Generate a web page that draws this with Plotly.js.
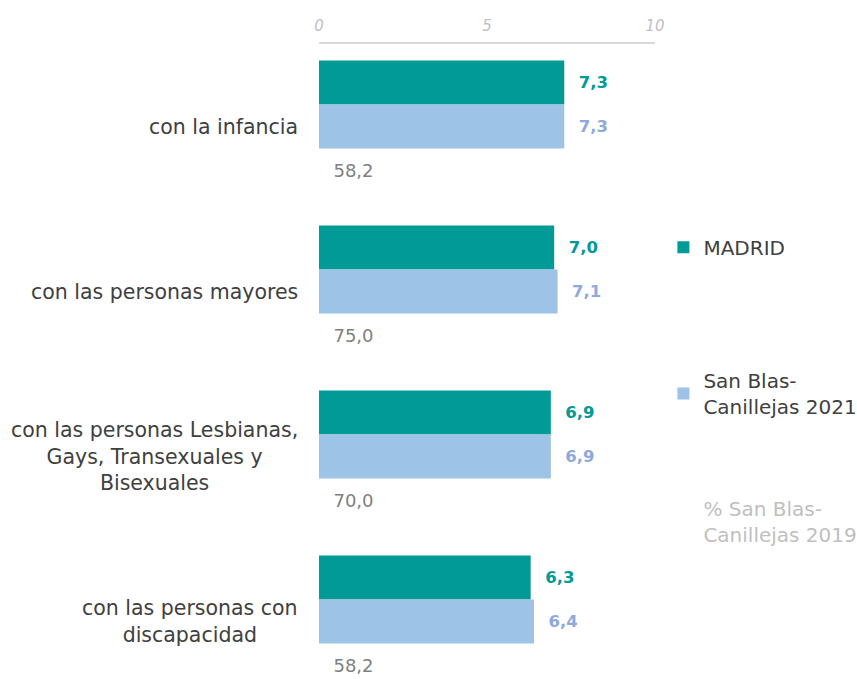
<!DOCTYPE html>
<html>
<head>
<meta charset="utf-8">
<script src="https://cdn.plot.ly/plotly-3.0.1.min.js"></script>
<style>html,body{margin:0;padding:0;background:#fff;}#chart{width:857px;height:679px;}</style>
</head>
<body>
<div id="chart"></div>
<script>
// ---- data ----
const categories = [
  "con la infancia",
  "con las personas mayores",
  "con las personas Lesbianas,<br>Gays, Transexuales y<br>Bisexuales",
  "con las personas con<br>discapacidad"
];
const madrid = [7.3, 7.0, 6.9, 6.3];
const sanBlas2021 = [7.3, 7.1, 6.9, 6.4];
const sanBlas2019Pct = [58.2, 75.0, 70.0, 58.2];
const xTicks = [0, 5, 10];
const seriesNames = ["MADRID", "San Blas-<br>Canillejas 2021", "% San Blas-<br>Canillejas 2019"];

const FONT = "DejaVu Sans";
const pad = "\u00a0\u00a0";
const fmt = v => v.toFixed(1).replace(".", ",");

const traces = [
  {
    type: "bar", orientation: "h", name: seriesNames[0],
    y: categories, x: madrid,
    marker: {color: "#009A97"},
    text: madrid.map(v => pad + fmt(v)), textposition: "outside",
    textfont: {family: FONT, size: 16.5, color: "#009A97", weight: "bold"},
    cliponaxis: false, legend: "legend", hoverinfo: "skip"
  },
  {
    type: "bar", orientation: "h", name: seriesNames[1],
    y: categories, x: sanBlas2021,
    marker: {color: "#9DC3E6"},
    text: sanBlas2021.map(v => pad + fmt(v)), textposition: "outside",
    textfont: {family: FONT, size: 16.5, color: "#8EA9DB", weight: "bold"},
    cliponaxis: false, legend: "legend2", hoverinfo: "skip"
  },
  {
    type: "bar", orientation: "h", name: seriesNames[2],
    y: categories, x: sanBlas2019Pct.map(() => 0),
    marker: {color: "rgba(0,0,0,0)"},
    text: sanBlas2019Pct.map(v => "\u00a0\u00a0" + fmt(v)), textposition: "outside",
    textfont: {family: FONT, size: 18, color: "#7F7F7F"},
    cliponaxis: false, legend: "legend3", hoverinfo: "skip"
  }
];

const annotations = categories.map(c => ({
  xref: "paper", yref: "y", x: 0, y: c, xanchor: "right", yanchor: "middle",
  xshift: -19, text: c, showarrow: false, align: "center",
  font: {family: FONT, size: 20.5, color: "#404040"}
}));

const legendBase = {
  xref: "paper", yref: "paper", xanchor: "left", yanchor: "middle",
  x: 1.025, bgcolor: "rgba(0,0,0,0)", borderwidth: 0
};

const layout = {
  width: 857, height: 679,
  margin: {l: 319, r: 202, t: 44, b: 0, autoexpand: false},
  paper_bgcolor: "#ffffff", plot_bgcolor: "#ffffff",
  separators: ",.",
  barmode: "group", bargap: 0.2, bargroupgap: 0,
  font: {family: FONT, color: "#404040"},
  xaxis: {
    side: "top", range: [0, 10], tickvals: xTicks, ticktext: xTicks.map(String),
    showgrid: false, zeroline: false, showline: true, linecolor: "#D9D9D9", linewidth: 2,
    ticks: "", ticklabelstandoff: 5, automargin: false,
    tickfont: {family: FONT, size: 15, color: "#BFBFBF", style: "italic"}
  },
  yaxis: {
    type: "category", range: [3.348, -0.5], showticklabels: false, automargin: false,
    showgrid: false, zeroline: false, showline: false, ticks: ""
  },
  annotations: annotations,
  showlegend: true,
  legend: Object.assign({}, legendBase, {y: 0.680, font: {family: FONT, size: 20, color: "#404040"}}),
  legend2: Object.assign({}, legendBase, {y: 0.4496, font: {family: FONT, size: 20, color: "#404040"}}),
  legend3: Object.assign({}, legendBase, {y: 0.248, font: {family: FONT, size: 20, color: "#BFBFBF"}})
};

Plotly.newPlot("chart", traces, layout, {displayModeBar: false, staticPlot: true});
</script>
</body>
</html>
